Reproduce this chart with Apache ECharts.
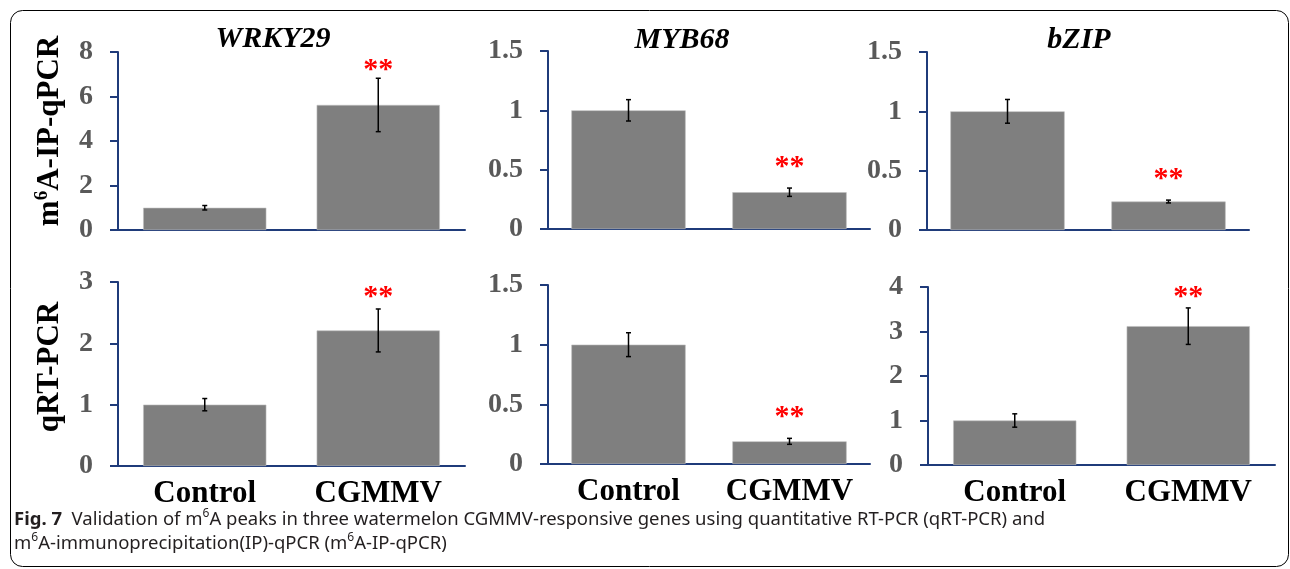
<!DOCTYPE html>
<html>
<head>
<meta charset="utf-8">
<script src="https://cdn.jsdelivr.net/npm/echarts@6/dist/echarts.min.js"></script>
<style>
  html, body { margin: 0; padding: 0; background: #fff; }
  #app { width: 1290px; height: 569px; }
</style>
</head>
<body>
<div id="app"></div>
<script>
(function () {
  // 数据
  const categories = ["Control", "CGMMV"];
  const genes = ["WRKY29", "MYB68", "bZIP"];
  // m6A-IP-qPCR
  const ipMean = [[1.0, 5.62], [1.0, 0.31], [1.0, 0.24]];
  const ipErr = [[0.1, 1.2], [0.09, 0.035], [0.1, 0.012]];
  const ipStar = [[null, 7.37], [null, 0.556], [null, 0.46]];
  const ipMax = [8, 1.5, 1.5];
  const ipStep = [2, 0.5, 0.5];
  // qRT-PCR
  const rtMean = [[1.0, 2.21], [1.0, 0.19], [1.0, 3.12]];
  const rtErr = [[0.1, 0.35], [0.1, 0.025], [0.15, 0.41]];
  const rtStar = [[null, 2.82], [null, 0.425], [null, 3.86]];
  const rtMax = [3, 1.5, 4];
  const rtStep = [1, 0.5, 1];

  const serif = '"Liberation Serif", "Times New Roman", serif';
  const sans = '"Noto Sans", "Liberation Sans", sans-serif';
  const axisColor = "#1f3b7a";

  // 每个小图的位置
  const boxes = [
    { left: 118, top: 52, width: 347, height: 178 },
    { left: 548, top: 51, width: 322, height: 178 },
    { left: 927, top: 52, width: 322, height: 178 },
    { left: 118, top: 282, width: 347, height: 184 },
    { left: 548, top: 285, width: 322, height: 179 },
    { left: 928, top: 287, width: 347, height: 178 },
  ];

  const panels = [];
  for (let i = 0; i < 3; i++) {
    panels.push({ mean: ipMean[i], err: ipErr[i], star: ipStar[i], max: ipMax[i], step: ipStep[i], bottom: false });
  }
  for (let i = 0; i < 3; i++) {
    panels.push({ mean: rtMean[i], err: rtErr[i], star: rtStar[i], max: rtMax[i], step: rtStep[i], bottom: true });
  }

  const grid = [], xAxis = [], yAxis = [], series = [];
  panels.forEach(function (p, i) {
    grid.push(Object.assign({ containLabel: false }, boxes[i]));
    xAxis.push({
      type: "category",
      gridIndex: i,
      data: categories,
      axisLine: { lineStyle: { color: axisColor, width: 2 } },
      axisTick: { show: false },
      axisLabel: {
        show: p.bottom,
        interval: 0,
        hideOverlap: false,
        color: "#000",
        fontFamily: serif,
        fontWeight: "bold",
        fontSize: 31,
        margin: 12,
      },
    });
    yAxis.push({
      type: "value",
      gridIndex: i,
      min: 0,
      max: p.max,
      interval: p.step,
      splitLine: { show: false },
      axisLine: { show: true, lineStyle: { color: axisColor, width: 2 } },
      axisTick: { show: true, length: 8, lineStyle: { color: axisColor, width: 2 } },
      axisLabel: {
        color: "#595959",
        fontFamily: serif,
        fontWeight: "bold",
        fontSize: 28,
        margin: 25,
      },
    });
    series.push({
      type: "bar",
      xAxisIndex: i,
      yAxisIndex: i,
      barWidth: "71%",
      itemStyle: { color: "#7f7f7f", borderColor: "#bdbdbd", borderWidth: 0.6 },
      data: p.mean,
    });
    series.push({
      type: "custom",
      xAxisIndex: i,
      yAxisIndex: i,
      z: 5,
      data: p.mean.map(function (m, k) { return [k, m, p.err[k]]; }),
      renderItem: function (params, api) {
        const x = api.value(0), m = api.value(1), e = api.value(2);
        const top = api.coord([x, m + e]);
        const bot = api.coord([x, m - e]);
        const ls = { stroke: "#000", lineWidth: 1.5 };
        const cap = 2.5;
        const children = [
          { type: "line", shape: { x1: top[0], y1: top[1], x2: bot[0], y2: bot[1] }, style: ls },
          { type: "line", shape: { x1: top[0] - cap, y1: top[1], x2: top[0] + cap, y2: top[1] }, style: ls },
          { type: "line", shape: { x1: bot[0] - cap, y1: bot[1], x2: bot[0] + cap, y2: bot[1] }, style: ls },
        ];
        const s = p.star[params.dataIndex];
        if (s != null) {
          const sp = api.coord([x, s]);
          children.push({
            type: "text",
            x: sp[0],
            y: sp[1] + 4,
            style: {
              text: "**",
              fill: "#ff0000",
              font: "bold 30px " + serif,
              align: "center",
              verticalAlign: "middle",
            },
          });
        }
        return { type: "group", children: children };
      },
    });
  });

  const titleFont = "italic bold 30px " + serif;
  const labelRich = {
    s: { fontSize: 19, fontWeight: "bold", fontFamily: serif, verticalAlign: "top", lineHeight: 34 },
  };
  const capRich = {
    b: { fontFamily: sans, fontWeight: "bold", fontSize: 18.5, fill: "#231f20" },
    sup: { fontFamily: sans, fontSize: 12, fill: "#231f20", verticalAlign: "top", lineHeight: 24 },
  };

  const graphic = [
    {
      type: "rect",
      shape: { x: 10.5, y: 10.5, width: 1278, height: 556, r: 12 },
      style: { fill: "none", stroke: "#000", lineWidth: 1 },
    },
    { type: "text", x: 273, y: 39, style: { text: genes[0], font: titleFont, fill: "#000", align: "center", verticalAlign: "middle" } },
    { type: "text", x: 682, y: 40, style: { text: genes[1], font: titleFont, fill: "#000", align: "center", verticalAlign: "middle" } },
    { type: "text", x: 1079, y: 40, style: { text: genes[2], font: titleFont, fill: "#000", align: "center", verticalAlign: "middle" } },
    {
      type: "text", x: 50, y: 131, rotation: Math.PI / 2,
      style: { text: "m{s|6}A-IP-qPCR", rich: labelRich, font: "bold 31px " + serif, fill: "#000", align: "center", verticalAlign: "middle" },
    },
    {
      type: "text", x: 50, y: 367, rotation: Math.PI / 2,
      style: { text: "qRT-PCR", font: "bold 31px " + serif, fill: "#000", align: "center", verticalAlign: "middle" },
    },
    {
      type: "text", x: 14, y: 520,
      style: {
        text: "{b|Fig. 7}  Validation of m{sup|6}A peaks in three watermelon CGMMV-responsive genes using quantitative RT-PCR (qRT-PCR) and",
        rich: capRich, font: "18.5px " + sans, fill: "#231f20", verticalAlign: "middle",
      },
    },
    {
      type: "text", x: 14, y: 544,
      style: {
        text: "m{sup|6}A-immunoprecipitation(IP)-qPCR (m{sup|6}A-IP-qPCR)",
        rich: capRich, font: "18.5px " + sans, fill: "#231f20", verticalAlign: "middle",
      },
    },
  ];

  const myChart = echarts.init(document.getElementById("app"));
  myChart.setOption({
    animation: false,
    grid: grid,
    xAxis: xAxis,
    yAxis: yAxis,
    series: series,
    graphic: graphic,
  });
})();
</script>
</body>
</html>
